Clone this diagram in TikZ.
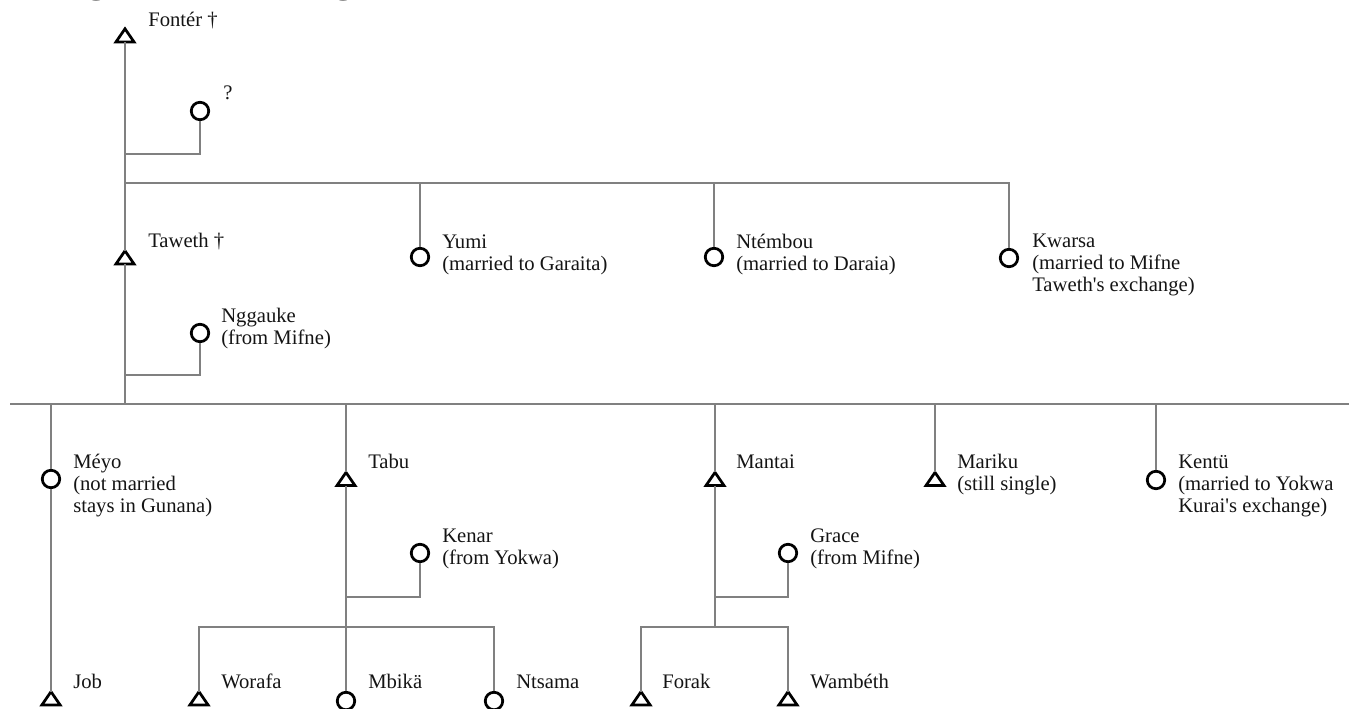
\documentclass[tikz,border=0pt]{standalone}
\usepackage{fontspec}
\setmainfont{Liberation Serif}
\newfontfamily\headfont{Liberation Sans}
\definecolor{linkgray}{RGB}{128,128,128}
\definecolor{inkc}{RGB}{20,20,20}
\tikzset{
  male/.style={rectangle, minimum width=13.2pt, minimum height=9.5pt, inner sep=0pt,
    append after command={\pgfextra{\let\LN\tikzlastnode
      \draw[black, line width=2.05pt, line join=miter]
      (\LN.north) -- (\LN.south east) -- (\LN.south west) -- cycle;}}},
  female/.style={circle, minimum size=13.1pt, inner sep=0pt, draw=black, line width=2.05pt},
  lbl/.style={anchor=base west, align=left, inner sep=0pt, text=inkc,
    font=\fontsize{15.5}{16.7}\selectfont},
  link/.style={draw=linkgray, line width=2.1pt},
  head/.style={anchor=base west, inner sep=0pt, font=\headfont\fontsize{45}{45}\selectfont}
}
\begin{document}
\begin{tikzpicture}[x=0.75pt, y=-0.75pt]
\useasboundingbox (0,0) rectangle (1349,708);
% cut-off heading fragments
\node[head] (h1) at (80,-11.5) {g};
\node[head] (h2) at (327,-11.5) {g};
% junctions
\coordinate (fj) at (125,154);
\coordinate (sib1) at (125,183);
\coordinate (tj) at (125,375);
\coordinate (mainL) at (10,404);
\coordinate (mainR) at (1349,404);
\coordinate (mainC) at (125,404);
\coordinate (tabuJ) at (346,597);
\coordinate (tabuK) at (346,627);
\coordinate (manJ) at (715,597);
\coordinate (manK) at (715,627);
% people
\node[male] (fonter) at (125,35.4) {};
\node[female] (q) at (200,111) {};
\node[male] (taweth) at (125,257.4) {};
\node[female] (yumi) at (420,257) {};
\node[female] (ntembou) at (714,257) {};
\node[female] (kwarsa) at (1009,258) {};
\node[female] (nggauke) at (200,333) {};
\node[female] (meyo) at (51,479) {};
\node[male] (tabu) at (346,479) {};
\node[male] (mantai) at (715,479) {};
\node[male] (mariku) at (935,479) {};
\node[female] (kentu) at (1156,480) {};
\node[female] (kenar) at (420,553) {};
\node[female] (grace) at (788,553) {};
\node[male] (job) at (51,698.3) {};
\node[male] (worafa) at (199,698.3) {};
\node[female] (mbika) at (346,701) {};
\node[female] (ntsama) at (494,701) {};
\node[male] (forak) at (641,698.3) {};
\node[male] (wambeth) at (788,698.3) {};
% labels (anchor = baseline of the last line)
\node[lbl] (lfonter) at (148,26) {Fontér †};
\node[lbl] (lq) at (223,99) {?};
\node[lbl] (ltaweth) at (148,247) {Taweth †};
\node[lbl] (lyumi) at (442,270.3) {Yumi\\(married to Garaita)};
\node[lbl] (lntembou) at (736,270.3) {Ntémbou\\(married to Daraia)};
\node[lbl] (lkwarsa) at (1032,291.6) {Kwarsa\\(married to Mifne\\Taweth\textquotesingle s exchange)};
\node[lbl] (lnggauke) at (221,344.3) {Nggauke\\(from Mifne)};
\node[lbl] (lmeyo) at (73,512.6) {Méyo\\(not married\\stays in Gunana)};
\node[lbl] (ltabu) at (368,468) {Tabu};
\node[lbl] (lmantai) at (736,468) {Mantai};
\node[lbl] (lmariku) at (957,490.3) {Mariku\\(still single)};
\node[lbl] (lkentu) at (1178,512.6) {Kentü\\(married to Yokwa\\Kurai\textquotesingle s exchange)};
\node[lbl] (lkenar) at (442,564.3) {Kenar\\(from Yokwa)};
\node[lbl] (lgrace) at (810,564.3) {Grace\\(from Mifne)};
\node[lbl] (ljob) at (73,688) {Job};
\node[lbl] (lworafa) at (221,688) {Worafa};
\node[lbl] (lmbika) at (368,688) {Mbikä};
\node[lbl] (lntsama) at (516,688) {Ntsama};
\node[lbl] (lforak) at (662,688) {Forak};
\node[lbl] (lwambeth) at (810,688) {Wambéth};
% connectors
\draw[link] (fonter.south) -- (taweth.north);
\draw[link] (q.south) |- (fj);
\draw[link] (sib1) -| (kwarsa.north);
\draw[link] (yumi.north) -- (yumi.north |- sib1);
\draw[link] (ntembou.north) -- (ntembou.north |- sib1);
\draw[link] (taweth.south) -- (mainC);
\draw[link] (nggauke.south) |- (tj);
\draw[link] (mainL) -- (mainR);
\draw[link] (meyo.north) -- (meyo.north |- mainL);
\draw[link] (tabu.north) -- (tabu.north |- mainL);
\draw[link] (mantai.north) -- (mantai.north |- mainL);
\draw[link] (mariku.north) -- (mariku.north |- mainL);
\draw[link] (kentu.north) -- (kentu.north |- mainL);
\draw[link] (meyo.south) -- (job.north);
\draw[link] (tabu.south) -- (mbika.north);
\draw[link] (kenar.south) |- (tabuJ);
\draw[link] (worafa.north) |- (tabuK) -| (ntsama.north);
\draw[link] (mantai.south) -- (manK);
\draw[link] (grace.south) |- (manJ);
\draw[link] (forak.north) |- (manK) -| (wambeth.north);
\end{tikzpicture}
\end{document}
